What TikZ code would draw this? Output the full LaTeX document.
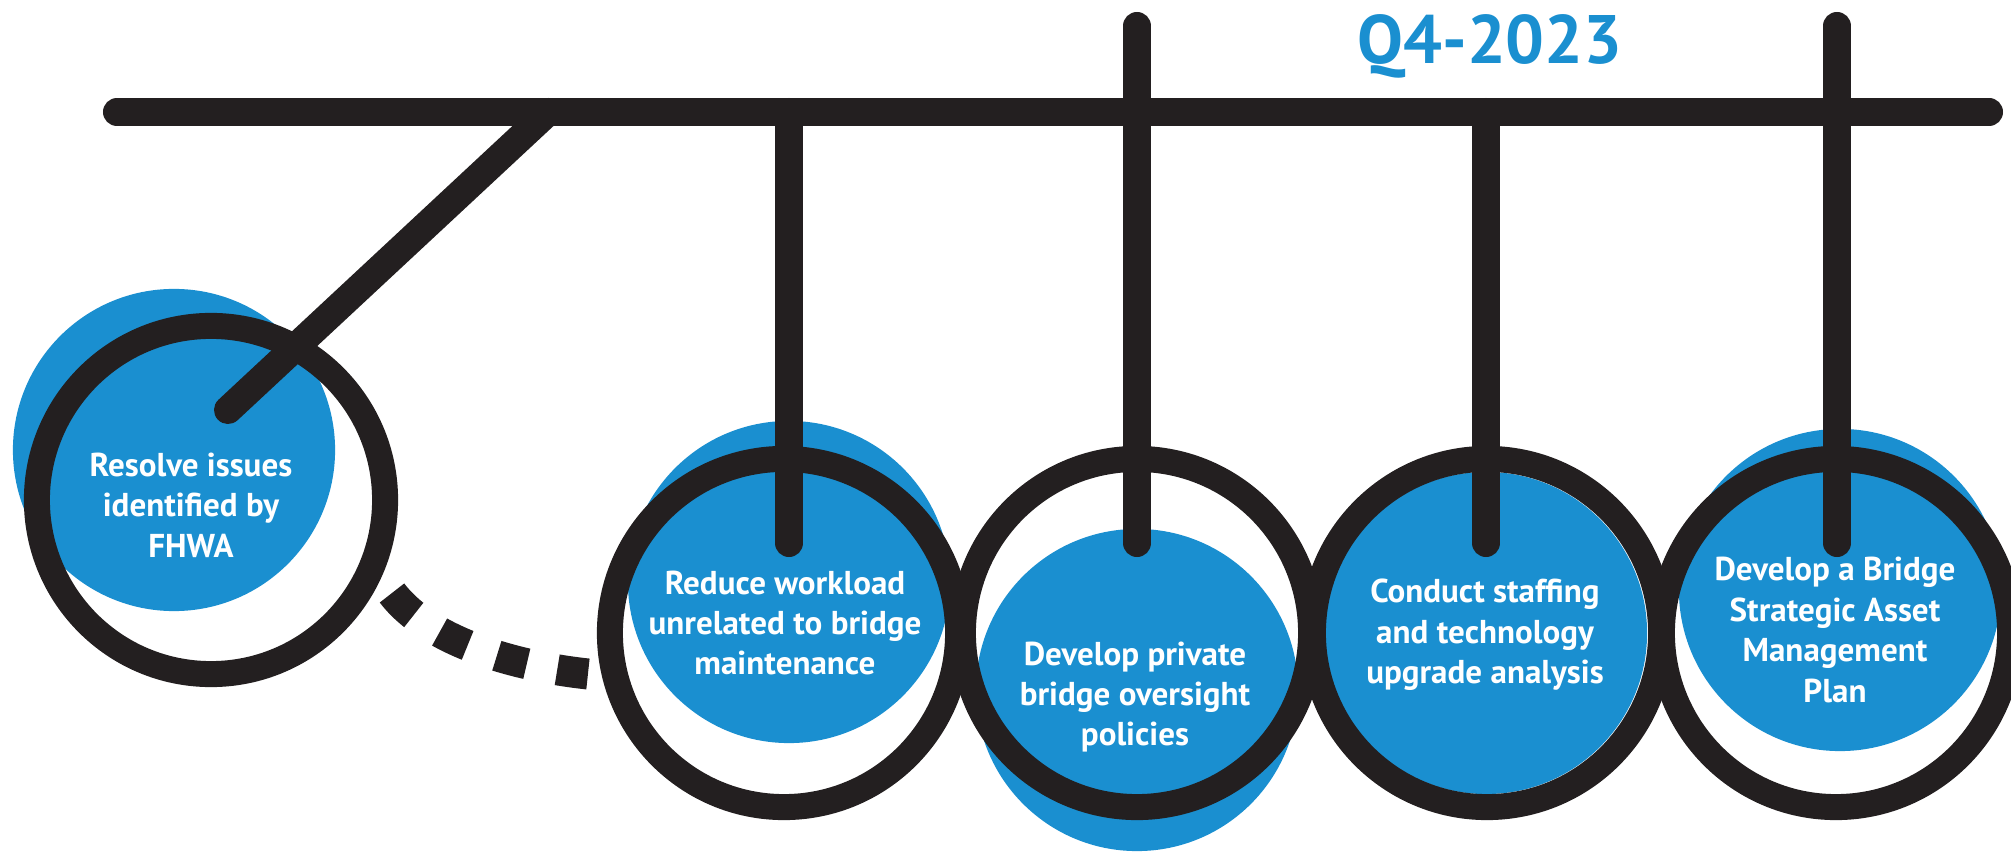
\documentclass[tikz,border=0pt]{standalone}
\usepackage{fontspec}
\setmainfont{PT Sans}
\usepackage{xcolor}
\definecolor{blu}{RGB}{26,143,208}
\definecolor{nero}{RGB}{35,31,32}

\begin{document}
\begin{tikzpicture}[x=0.01cm, y=-0.01cm,
        barra/.style={nero, line width=0.28cm, line cap=round},
        anello/.style={circle, draw=nero, line width=0.26cm, minimum size=3.48cm, inner sep=0pt},
        disco/.style={circle, fill=blu, minimum size=3.22cm, inner sep=0pt},
        testo/.style={white, align=center, font=\bfseries\fontsize{9.4}{11.5}\selectfont}]

        \useasboundingbox (0,0) rectangle (2011,852);

        % Dischi blu
        \node[disco] (b1) at (174,450) {};
        \node[disco] (b2) at (789,582) {};
        \node[disco] (b3) at (1137,690) {};
        \node[disco] (b4) at (1486,633) {};
        \node[disco] (b5) at (1840,590) {};

        % Anelli
        \node[anello] (c1) at (211,500) {};
        \node[anello] (c2) at (784,633) {};
        \node[anello] (c3) at (1137,633) {};
        \node[anello] (c4) at (1487,633) {};
        \node[anello] (c5) at (1836,633) {};

        % Barra orizzontale
        \coordinate (sx) at (117,112);
        \coordinate (dx) at (1989,112);
        \draw[barra] (sx) -- (dx);

        % Asta diagonale
        \coordinate (d0) at (548,112);
        \coordinate (d1) at (228,410);
        \draw[barra] (d0) -- (d1);

        % Aste verticali
        \foreach \x/\t [count=\i from 2] in {789/112, 1137/26, 1486/112, 1837/26} {
            \coordinate (a\i) at (\x,\t);
            \coordinate (e\i) at (\x,543);
            \draw[barra] (a\i) -- (e\i);
        }

        % Linea tratteggiata
        \coordinate (q0) at (392,593);
        \coordinate (q1) at (598,675);
        \draw[nero, line width=0.31cm, dash pattern=on 0.31cm off 0.31cm]
            (q0) .. controls (430,643) and (520,668) .. (q1);

        % Testi
        \node[blu, font=\bfseries\fontsize{19.5}{22}\selectfont] (q4) at (1490,46) {Q4-2023};
        \node[testo] (t1) at (191,505) {Resolve issues\\identified by\\FHWA};
        \node[testo] (t2) at (785,623) {Reduce workload\\unrelated to bridge\\maintenance};
        \node[testo] (t3) at (1135,697) {Develop private\\bridge oversight\\policies};
        \node[testo] (t4) at (1485,635) {Conduct staffing\\and technology\\upgrade analysis};
        \node[testo] (t5) at (1835,630) {Develop a Bridge\\Strategic Asset\\Management\\Plan};
\end{tikzpicture}
\end{document}
